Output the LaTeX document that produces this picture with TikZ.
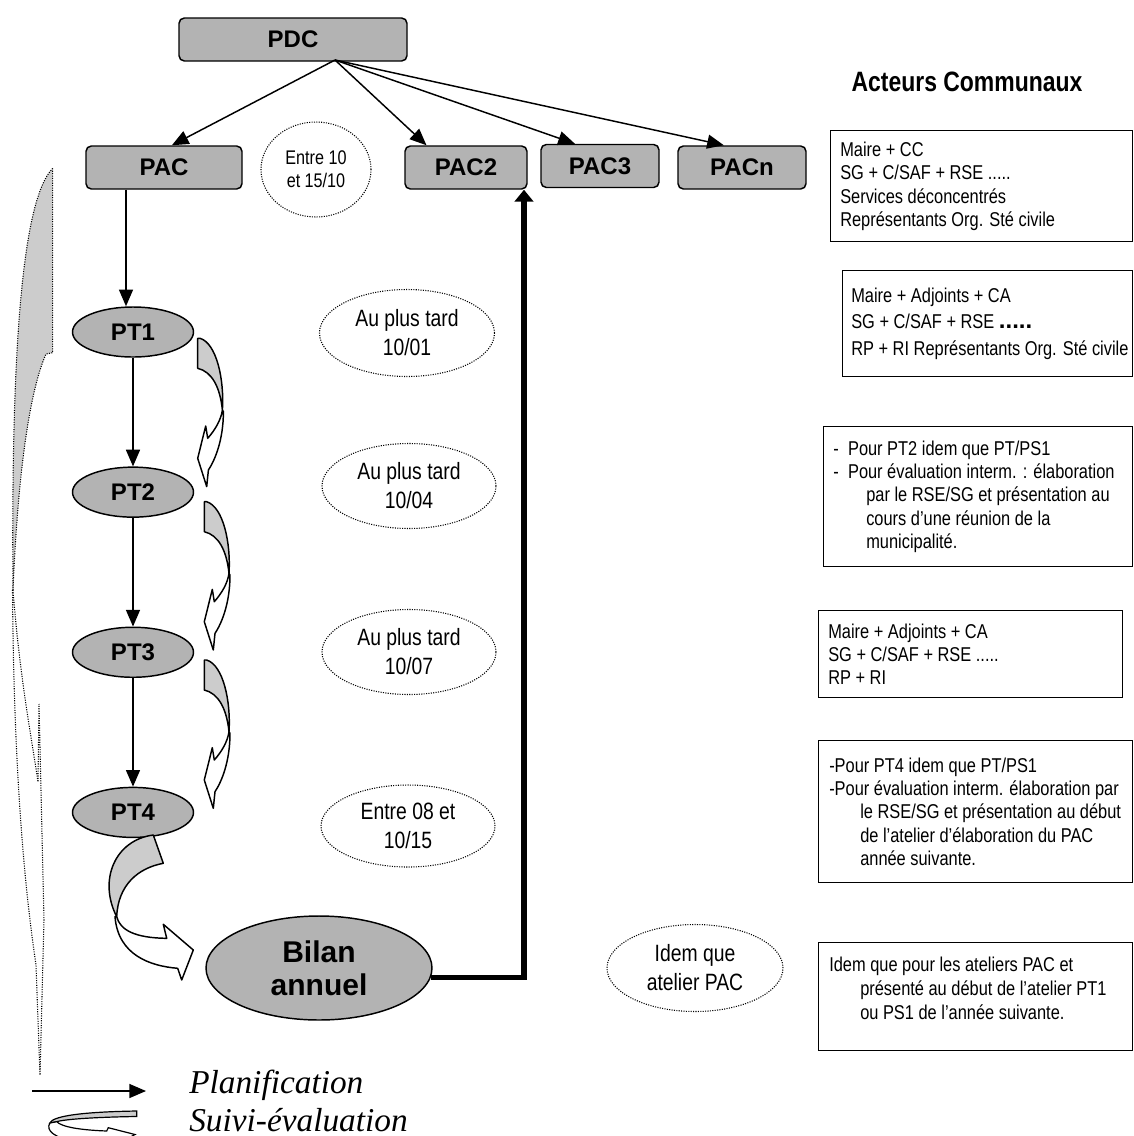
\documentclass[tikz,border=0pt]{standalone}
\usepackage{fontspec}
\usetikzlibrary{positioning,shapes.geometric,arrows.meta,calc}
\newfontfamily\arialfont{Liberation Sans}
\newfontfamily\narrowfont[FakeStretch=0.82]{Liberation Sans}
\newfontfamily\timesfont{Liberation Serif}
\newcommand\etiqfont{\arialfont\bfseries\fontsize{18}{21}\selectfont}
\newcommand\bilanfont{\arialfont\bfseries\fontsize{22.5}{24.5}\selectfont}
\newcommand\datefont{\narrowfont\fontsize{17.7}{21.7}\selectfont}
\newcommand\petitdatefont{\narrowfont\fontsize{14.8}{17.3}\selectfont}
\newcommand\cadrefont{\narrowfont\fontsize{15}{17.5}\selectfont}
\newcommand\titrefont{\narrowfont\bfseries\fontsize{21}{24}\selectfont}
\newcommand\legendefont{\timesfont\itshape\fontsize{25}{28}\selectfont}
\definecolor{fondgris}{HTML}{B3B3B3}
\definecolor{rubangris}{HTML}{CCCCCC}
\newcommand\suivifleche[2]{%
  \begin{scope}[shift={(#1,#2)}]
    \draw[ruban, fill=rubangris] (0,0) -- (0,30) .. controls (14,33.3) and (22.3,48.3) .. (24.7,71.7) .. controls (26.7,41.7) and (19,5) .. (2.3,0) -- cycle;
    \draw[ruban, fill=white] (25.7,73.3) .. controls (25.7,101.7) and (17.3,121.7) .. (10.7,131.7) -- (9,148.3) -- (0,120) -- (8,87.7) -- (10,100) .. controls (17.3,91.7) and (23.3,81.7) .. (24.7,71.7) -- cycle;
  \end{scope}}

\begin{document}
\begin{tikzpicture}[x=0.75pt, y=-0.75pt,
    pacbox/.style = {draw, line width=1.1pt, rounded corners=4pt, fill=fondgris, minimum height=32.25pt, inner sep=0pt, font=\etiqfont},
    ptnode/.style = {ellipse, draw, line width=1.1pt, fill=fondgris, minimum width=90.75pt, minimum height=37.5pt, inner sep=0pt, font=\etiqfont},
    datenote/.style = {ellipse, draw, densely dotted, line width=0.8pt, inner sep=0pt, align=center, font=\datefont},
    acteur/.style = {draw, line width=1.1pt, anchor=north west, inner sep=0pt},
    acteurtxt/.style = {anchor=west, align=left, inner sep=0pt, font=\cadrefont},
    plan/.style = {-{Triangle[length=12.5pt,width=10.5pt]}, line width=1.1pt},
    retour/.style = {-{Triangle[length=9pt,width=14pt]}, line width=4pt},
    ruban/.style = {line width=1.1pt, line join=round}
  ]
  \useasboundingbox (0,0) rectangle (1133,1136);

  \node[pacbox, minimum width=171pt] (PDC) at (293,39.5) {PDC};
  \node[pacbox, minimum width=117pt] (PAC) at (164,167.5) {PAC};
  \node[pacbox, minimum width=91.5pt] (PAC2) at (466,167.5) {PAC2};
  \node[pacbox, minimum width=88.5pt] (PAC3) at (600,166) {PAC3};
  \node[pacbox, minimum width=96pt] (PACn) at (742,167.5) {PACn};
  \coordinate (pdcpied) at (335,60);
  \draw[plan] (pdcpied) -- ($(PAC.north west)!0.55!(PAC.north east)$);
  \draw[plan] (pdcpied) -- ($(PAC2.north west)!0.18!(PAC2.north east)$);
  \draw[plan] (pdcpied) -- ($(PAC3.north west)!0.29!(PAC3.north east)$);
  \draw[plan] (pdcpied) -- ($(PACn.north west)!0.36!(PACn.north east)$);

  \node[ptnode] (PT1) at (133,332) {PT1};
  \node[ptnode, below=81.5pt of PT1] (PT2) {PT2};
  \node[ptnode, below=81.5pt of PT2] (PT3) {PT3};
  \node[ptnode, below=81.5pt of PT3] (PT4) {PT4};
  \node[ellipse, draw, line width=1.1pt, fill=fondgris, minimum width=169.5pt, minimum height=78pt, inner sep=0pt, align=center, font=\bilanfont] (Bilan) at (319,968) {Bilan\\annuel};
  \coordinate (pacdescente) at (126,0);
  \draw[plan] (PAC.south -| pacdescente) -- (PT1.north -| pacdescente);
  \draw[plan] (PT1) -- (PT2);
  \draw[plan] (PT2) -- (PT3);
  \draw[plan] (PT3) -- (PT4);
  \coordinate (retourx) at (524,0);
  \draw[retour] (Bilan.-5) -| (PAC2.south -| retourx);

  \suivifleche{197.7}{338.3}
  \suivifleche{204.3}{501.7}
  \suivifleche{204.3}{660}
  \draw[ruban, fill=rubangris] (153.3,835) -- (163.3,863.3) .. controls (138,868) and (118,885) .. (116.7,916.7) .. controls (98,880) and (115,840) .. (153.3,835) -- cycle;
  \draw[ruban, fill=white] (116.7,916.7) .. controls (120,930) and (135,938) .. (166.7,938.3) -- (163.3,924.3) -- (193.3,950) -- (181.7,980) -- (177.7,968.3) .. controls (150,966) and (118,955) .. (115,916.7) -- cycle;
  \draw[densely dotted, line width=0.8pt, fill=rubangris] (52.7,168.3) -- (52.7,352.7) -- (46,354) .. controls (30,390) and (18,470) .. (13,590) .. controls (11,350) and (22,200) .. (52.7,168.3) -- cycle;
  \draw[densely dotted, line width=0.8pt] (13,590) .. controls (20,680) and (32,740) .. (38,782) -- (39,704) -- (44,920) -- (40,1075) -- (36,965) .. controls (28,910) and (14,800) .. (12.5,590);

  \node[datenote, font=\petitdatefont, minimum width=82.5pt, minimum height=71.25pt] (entre1) at (316,169.5) {Entre 10\\et 15/10};
  \node[datenote, minimum width=131.25pt, minimum height=65.25pt] (tard1) at (407,333) {Au plus tard\\10/01};
  \node[datenote, minimum width=130.5pt, minimum height=63.75pt] (tard2) at (409,486) {Au plus tard\\10/04};
  \node[datenote, minimum width=130.5pt, minimum height=63.75pt] (tard3) at (409,652) {Au plus tard\\10/07};
  \node[datenote, minimum width=130.5pt, minimum height=61.5pt] (entre2) at (408,826) {Entre 08 et\\10/15};
  \node[datenote, minimum width=132pt, minimum height=65.25pt] (idem) at (695,968) {Idem que\\atelier PAC};

  \node[font=\titrefont] (titre) at (967,82) {Acteurs Communaux};
  \node[acteur, minimum width=226.5pt, minimum height=83.25pt] (act1) at (830,130) {};
  \node[acteurtxt] (act1txt) at ([xshift=7.5pt]act1.west) {Maire + CC\\SG + C/SAF + RSE .....\\Services déconcentrés\\Représentants Org. Sté civile};
  \node[acteur, minimum width=217.5pt, minimum height=79.5pt] (act2) at (842,270) {};
  \node[acteurtxt, font=\narrowfont\fontsize{15}{20}\selectfont] (act2txt) at ([xshift=6.75pt]act2.west) {Maire + Adjoints + CA\\SG + C/SAF + RSE {\arialfont\bfseries\fontsize{18}{20}\selectfont .....}\\RP + RI Représentants Org. Sté civile};
  \node[acteur, minimum width=231.75pt, minimum height=105pt] (act3) at (823,426) {};
  \node[acteurtxt] (act3txt) at ([xshift=7.5pt]act3.west) {-\hspace{7pt}Pour PT2 idem que PT/PS1\\-\hspace{7pt}Pour évaluation interm. : élaboration\\\hspace*{24.75pt}par le RSE/SG et présentation au\\\hspace*{24.75pt}cours d’une réunion de la\\\hspace*{24.75pt}municipalité.};
  \node[acteur, minimum width=228pt, minimum height=65.25pt] (act4) at (818,610) {};
  \node[acteurtxt] (act4txt) at ([xshift=7.5pt]act4.west) {Maire + Adjoints + CA\\SG + C/SAF + RSE .....\\RP + RI};
  \node[acteur, minimum width=235.5pt, minimum height=106.5pt] (act5) at (818,740) {};
  \node[acteurtxt] (act5txt) at ([xshift=8.25pt]act5.west) {-Pour PT4 idem que PT/PS1\\-Pour évaluation interm. élaboration par\\\hspace*{23.25pt}le RSE/SG et présentation au début\\\hspace*{23.25pt}de l’atelier d’élaboration du PAC\\\hspace*{23.25pt}année suivante.};
  \node[acteur, minimum width=235.5pt, minimum height=81pt] (act6) at (818,942) {};
  \node[acteurtxt, font=\narrowfont\fontsize{15}{18}\selectfont] (act6txt) at ([xshift=8.25pt, yshift=6.4pt]act6.west) {Idem que pour les ateliers PAC et\\\hspace*{23.25pt}présenté au début de l’atelier PT1\\\hspace*{23.25pt}ou PS1 de l’année suivante.};

  \coordinate (legdebut) at (32,1091);
  \coordinate (legfin) at (146,1091);
  \draw[plan] (legdebut) -- (legfin);
  \draw[line width=0.9pt, fill=rubangris] (136.7,1111) -- (136.7,1116.5) .. controls (100,1117) and (65,1119) .. (56.7,1121.7) -- (50,1123) .. controls (52,1117) and (75,1112) .. (136.7,1111) -- cycle;
  \draw[line width=0.9pt, fill=white] (56.7,1121.7) .. controls (62,1127) and (80,1130) .. (106.7,1131) -- (108.3,1127.7) -- (135,1134.5) -- (125,1140) -- (75,1140) .. controls (55,1139) and (45,1130) .. (50,1123) -- cycle;
  \node[anchor=base west, font=\legendefont, inner sep=0pt] (planif) at (189,1093) {Planification};
  \node[anchor=base west, font=\legendefont, inner sep=0pt] (suivi) at (189,1131) {Suivi-évaluation};
\end{tikzpicture}
\end{document}
